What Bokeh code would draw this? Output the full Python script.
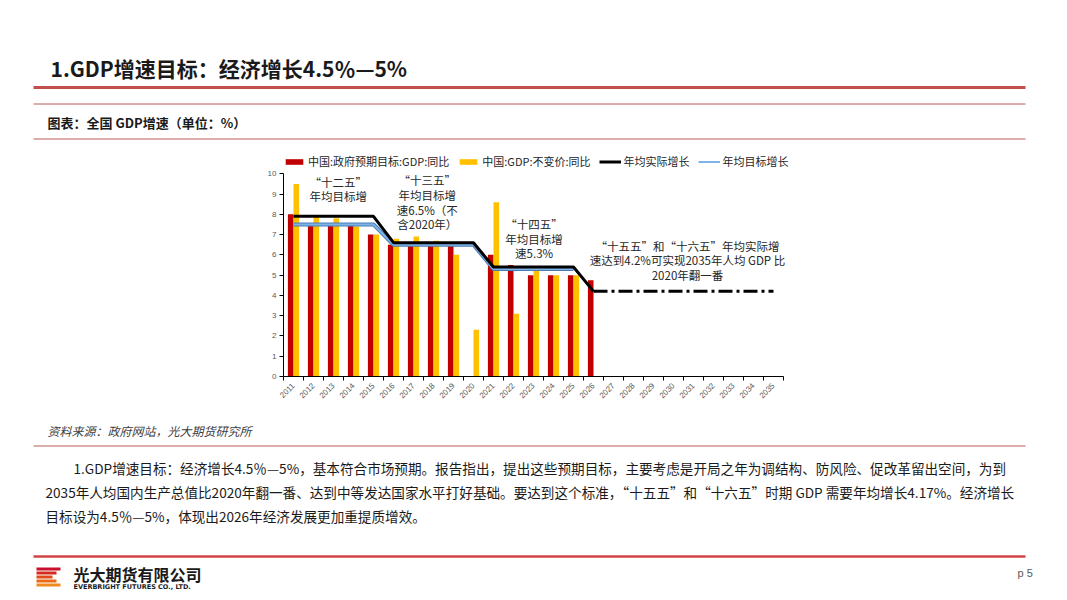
from bokeh.plotting import figure
from bokeh.models import Range1d, FixedTicker, Legend, LegendItem, Label
from bokeh.embed import file_html
from bokeh.resources import INLINE
from bokeh.core.properties import value
import math

FONT = "Noto Sans CJK SC"

# ---------------- data ----------------
years = [2011, 2012, 2013, 2014, 2015, 2016, 2017, 2018, 2019, 2020, 2021, 2022, 2023,
         2024, 2025, 2026, 2027, 2028, 2029, 2030, 2031, 2032, 2033, 2034, 2035]
year_labels = [str(y) for y in years]

target_years = [2011, 2012, 2013, 2014, 2015, 2016, 2017, 2018, 2019, 2021, 2022, 2023, 2024, 2025, 2026]
target_vals = [8.0, 7.5, 7.5, 7.5, 7.0, 6.5, 6.5, 6.5, 6.5, 6.0, 5.5, 5.0, 5.0, 5.0, 4.75]

actual_years = [2011, 2012, 2013, 2014, 2015, 2016, 2017, 2018, 2019, 2020, 2021, 2022, 2023, 2024, 2025]
actual_vals = [9.5, 7.9, 7.8, 7.4, 7.0, 6.8, 6.9, 6.7, 6.0, 2.3, 8.6, 3.1, 5.2, 5.0, 5.0]

avg_actual_years = [2011, 2012, 2013, 2014, 2015, 2016, 2017, 2018, 2019, 2020, 2021, 2022, 2023, 2024, 2025, 2026]
avg_actual_vals = [7.9, 7.9, 7.9, 7.9, 7.9, 6.6, 6.6, 6.6, 6.6, 6.6, 5.4, 5.4, 5.4, 5.4, 5.4, 4.2]

proj_years = [2026, 2027, 2028, 2029, 2030, 2031, 2032, 2033, 2034, 2035]
proj_vals = [4.2, 4.2, 4.2, 4.2, 4.2, 4.2, 4.2, 4.2, 4.2, 4.2]

avg_target_years = [2011, 2012, 2013, 2014, 2015, 2016, 2017, 2018, 2019, 2020, 2021, 2022, 2023, 2024, 2025]
avg_target_vals = [7.5, 7.5, 7.5, 7.5, 7.5, 6.5, 6.5, 6.5, 6.5, 6.5, 5.3, 5.3, 5.3, 5.3, 5.3]

y_ticks = [0, 1, 2, 3, 4, 5, 6, 7, 8, 9, 10]

legend_labels = ["中国:政府预期目标:GDP:同比", "中国:GDP:不变价:同比", "年均实际增长", "年均目标增长"]

notes = [
    ["“十二五”", "年均目标增"],
    ["“十三五”", "年均目标增", "速6.5%（不", "含2020年）"],
    ["“十四五”", "年均目标增", "速5.3%"],
    ["“十五五”和“十六五”年均实际增", "速达到4.2%可实现2035年人均 GDP 比", "2020年翻一番"],
]
note_x = [2013.24, 2017.69, 2023.03, 2030.7]
note_top = [9.97, 10.04, 7.89, 6.82]

title = "1.GDP增速目标：经济增长4.5％—5%"
subtitle = "图表：全国 GDP增速（单位：%）"
source = "资料来源：政府网站，光大期货研究所"
para = [
    "1.GDP增速目标：经济增长4.5％—5%，基本符合市场预期。报告指出，提出这些预期目标，主要考虑是开局之年为调结构、防风险、促改革留出空间，为到",
    "2035年人均国内生产总值比2020年翻一番、达到中等发达国家水平打好基础。要达到这个标准，“十五五”和“十六五”时期 GDP 需要年均增长4.17%。经济增长",
    "目标设为4.5％—5%，体现出2026年经济发展更加重提质增效。",
]

RED = "#C00000"
YEL = "#FFC000"
RULE = "#C0504D"
THIN = "#B65A57"

W = 1051


def page_fig(y0, y1):
    f = figure(width=W, height=y1 - y0, x_range=Range1d(0, W), y_range=Range1d(y1, y0),
               x_axis_type=None, y_axis_type=None, output_backend="svg",
               toolbar_location=None, min_border=0)
    f.outline_line_color = None
    f.xgrid.visible = False
    f.ygrid.visible = False
    return f


# ---------------- header ----------------
hdr = page_fig(0, 145)
hdr.text(x=[50], y=[67], text=[title], text_font=value(FONT), text_font_size=value("21px"),
         text_font_style="bold", text_color="#1a1a1a", text_baseline="middle")
hdr.segment(x0=[33], y0=[87], x1=[1025], y1=[87], line_color=RULE, line_width=3)
hdr.segment(x0=[33, 33], y0=[103.5, 138.5], x1=[1025, 1025], y1=[103.5, 138.5],
            line_color=THIN, line_width=1)
hdr.text(x=[47], y=[121.5], text=[subtitle], text_font=value(FONT), text_font_size=value("13px"),
         text_font_style="bold", text_color="#1a1a1a", text_baseline="middle")

# ---------------- chart ----------------
p = figure(width=W, height=270, x_range=Range1d(2010.5, 2036.2), y_range=Range1d(0, 11),
           output_backend="svg", toolbar_location=None,
           min_border_left=283, min_border_right=254, min_border_top=8, min_border_bottom=39)
p.outline_line_color = None
p.xgrid.visible = False
p.ygrid.visible = False

r_red = p.vbar(x=[y - 0.14 for y in target_years], top=target_vals, width=0.28,
               fill_color=RED, line_color=None)
r_yel = p.vbar(x=[y + 0.14 for y in actual_years], top=actual_vals, width=0.28,
               fill_color=YEL, line_color=None)
r_blue_o = p.line(avg_target_years, avg_target_vals, line_color="#4A7DB5", line_width=4)
r_blue_i = p.line(avg_target_years, avg_target_vals, line_color="#7DB3E6", line_width=2)
r_blk = p.line(avg_actual_years, avg_actual_vals, line_color="black", line_width=3)
p.line(proj_years, proj_vals, line_color="black", line_width=3, line_dash="14 4 3 4")

xa = p.xaxis[0]
xa.bounds = (years[0] - 0.5, years[-1] + 0.5)
xa.ticker = FixedTicker(ticks=years, minor_ticks=[y - 0.5 for y in years] + [years[-1] + 0.5])
xa.major_label_overrides = {y: l for y, l in zip(years, year_labels)}
xa.major_tick_line_color = None
xa.minor_tick_line_color = "black"
xa.minor_tick_in = 0
xa.minor_tick_out = 4
xa.axis_line_color = "black"
xa.major_label_orientation = math.pi / 4
xa.major_label_text_font_size = "8px"
xa.major_label_text_color = "#595959"
xa.major_label_text_font = "Liberation Sans"
xa.major_label_standoff = 2

ya = p.yaxis[0]
ya.bounds = (y_ticks[0], y_ticks[-1])
ya.ticker = FixedTicker(ticks=y_ticks)
ya.minor_tick_line_color = None
ya.major_tick_in = 0
ya.major_tick_out = 4
ya.axis_line_color = "black"
ya.major_label_text_font_size = "8px"
ya.major_label_text_color = "#595959"
ya.major_label_text_font = "Liberation Sans"
ya.major_label_standoff = 3

PX_PER_UNIT = 20.27
LINE_PX = 14.7
for lines, x, top in zip(notes, note_x, note_top):
    for i, t in enumerate(lines):
        p.add_layout(Label(x=x, y=top - (i + 0.5) * LINE_PX / PX_PER_UNIT, text=t,
                           text_align="center", text_baseline="middle",
                           text_font=FONT, text_font_size="11.5px", text_color="#262626"))

legend = Legend(items=[LegendItem(label=legend_labels[0], renderers=[r_red]),
                       LegendItem(label=legend_labels[1], renderers=[r_yel]),
                       LegendItem(label=legend_labels[2], renderers=[r_blk]),
                       LegendItem(label=legend_labels[3], renderers=[r_blue_i])],
                orientation="horizontal", location="top_left", glyph_width=22, glyph_height=7,
                label_text_font=FONT, label_text_font_size="11px", label_text_color="#262626",
                label_standoff=3, spacing=8, padding=0, margin=0, label_height=12,
                border_line_color=None, background_fill_alpha=0)
p.add_layout(legend)

# ---------------- footer ----------------
ftr = page_fig(415, 592)
ftr.text(x=[47], y=[430], text=[source], text_font=value(FONT), text_font_size=value("12px"),
         text_font_style="italic", text_color="#404040", text_baseline="middle")
ftr.segment(x0=[33], y0=[445.5], x1=[1025], y1=[445.5], line_color=THIN, line_width=1)
ftr.text(x=[73, 45, 45], y=[467, 491, 515], text=para, text_font=value(FONT),
         text_font_size=value("13.6px"), text_color="#1a1a1a", text_baseline="middle")
ftr.segment(x0=[33], y0=[556], x1=[1025], y1=[556], line_color="#D04545", line_width=2.5)
# logo
stripe_top = [567, 571, 575, 579, 583]
stripe_col = ["#C8102E", "#D52B1E", "#E04A1B", "#EA6A18", "#F08A1C"]
ftr.quad(left=[36] * 5, right=[60, 56, 52, 56, 60], top=stripe_top,
         bottom=[t + 3 for t in stripe_top], fill_color=stripe_col, line_color=None)
ftr.text(x=[73], y=[573], text=["光大期货有限公司"], text_font=value(FONT),
         text_font_size=value("16px"), text_font_style="bold", text_color="#1a1a1a",
         text_baseline="middle")
ftr.text(x=[73], y=[586], text=["EVERBRIGHT FUTURES CO., LTD."], text_font=value("DejaVu Sans"),
         text_font_size=value("6.5px"), text_font_style="bold", text_color="#1a1a1a",
         text_baseline="middle")
ftr.text(x=[1017], y=[572], text=["p 5"], text_font=value("Liberation Sans"),
         text_font_size=value("11px"), text_color="#595959", text_baseline="middle")

open("out.html", "w").write(file_html([hdr, p, ftr], INLINE))
